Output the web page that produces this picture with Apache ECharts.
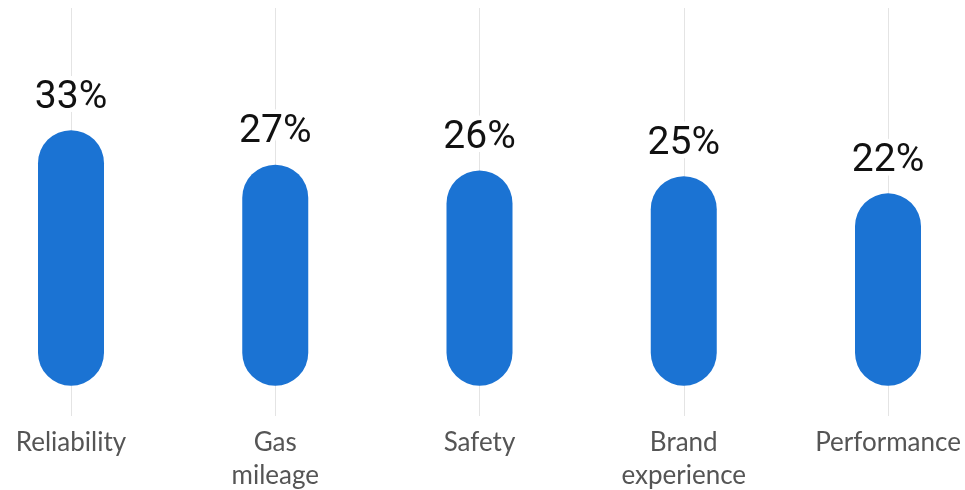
<!DOCTYPE html>
<html>
<head>
<meta charset="utf-8">
<script src="https://cdn.jsdelivr.net/npm/echarts@6/dist/echarts.min.js"></script>
<style>
  html, body { margin: 0; padding: 0; background: #ffffff; }
  #chart { width: 965px; height: 490px; }
</style>
</head>
<body>
<div id="chart"></div>
<script>
// Top reasons for choosing a car
const categories = ['Reliability', 'Gas mileage', 'Safety', 'Brand experience', 'Performance'];
const shares = [33, 27, 26, 25, 22];

const BAR_W = 66;
const R = BAR_W / 2;

const chart = echarts.init(document.getElementById('chart'));

chart.setOption({
  animation: false,
  grid: { left: 71, right: 77, top: 8, bottom: 74, containLabel: false, outerBoundsMode: 'none' },
  xAxis: {
    type: 'category',
    data: categories,
    boundaryGap: false,
    axisLine: { show: false },
    axisTick: { show: false },
    splitLine: { show: true, lineStyle: { color: '#e4e4e4', width: 1 } },
    axisLabel: {
      interval: 0,
      margin: 10,
      fontFamily: 'Lato',
      fontSize: 26,
      lineHeight: 33,
      color: '#555555',
      formatter: v => v.replace(' ', '\n')
    }
  },
  yAxis: {
    type: 'value',
    min: -11,
    max: 60,
    show: false,
    splitLine: { show: false }
  },
  series: [{
    type: 'custom',
    data: shares.map((v, i) => [i, v]),
    renderItem: function (params, api) {
      const i = api.value(0);
      const v = api.value(1);
      const base = api.coord([i, 0]);
      const top = api.coord([i, v]);
      return {
        type: 'group',
        children: [
          {
            type: 'rect',
            shape: {
              x: base[0] - R,
              y: top[1] - R,
              width: BAR_W,
              height: base[1] - top[1] + 2 * R,
              r: R
            },
            style: { fill: '#1b73d3' }
          },
          {
            type: 'text',
            z2: 10,
            style: {
              text: v + '%',
              x: top[0],
              y: top[1] - R - 32,
              align: 'center',
              verticalAlign: 'middle',
              font: '39px Roboto, "Liberation Sans", sans-serif',
              fill: '#111111',
              stroke: '#ffffff',
              lineWidth: 9,
              strokeFirst: true
            }
          }
        ]
      };
    }
  }]
});
</script>
</body>
</html>
